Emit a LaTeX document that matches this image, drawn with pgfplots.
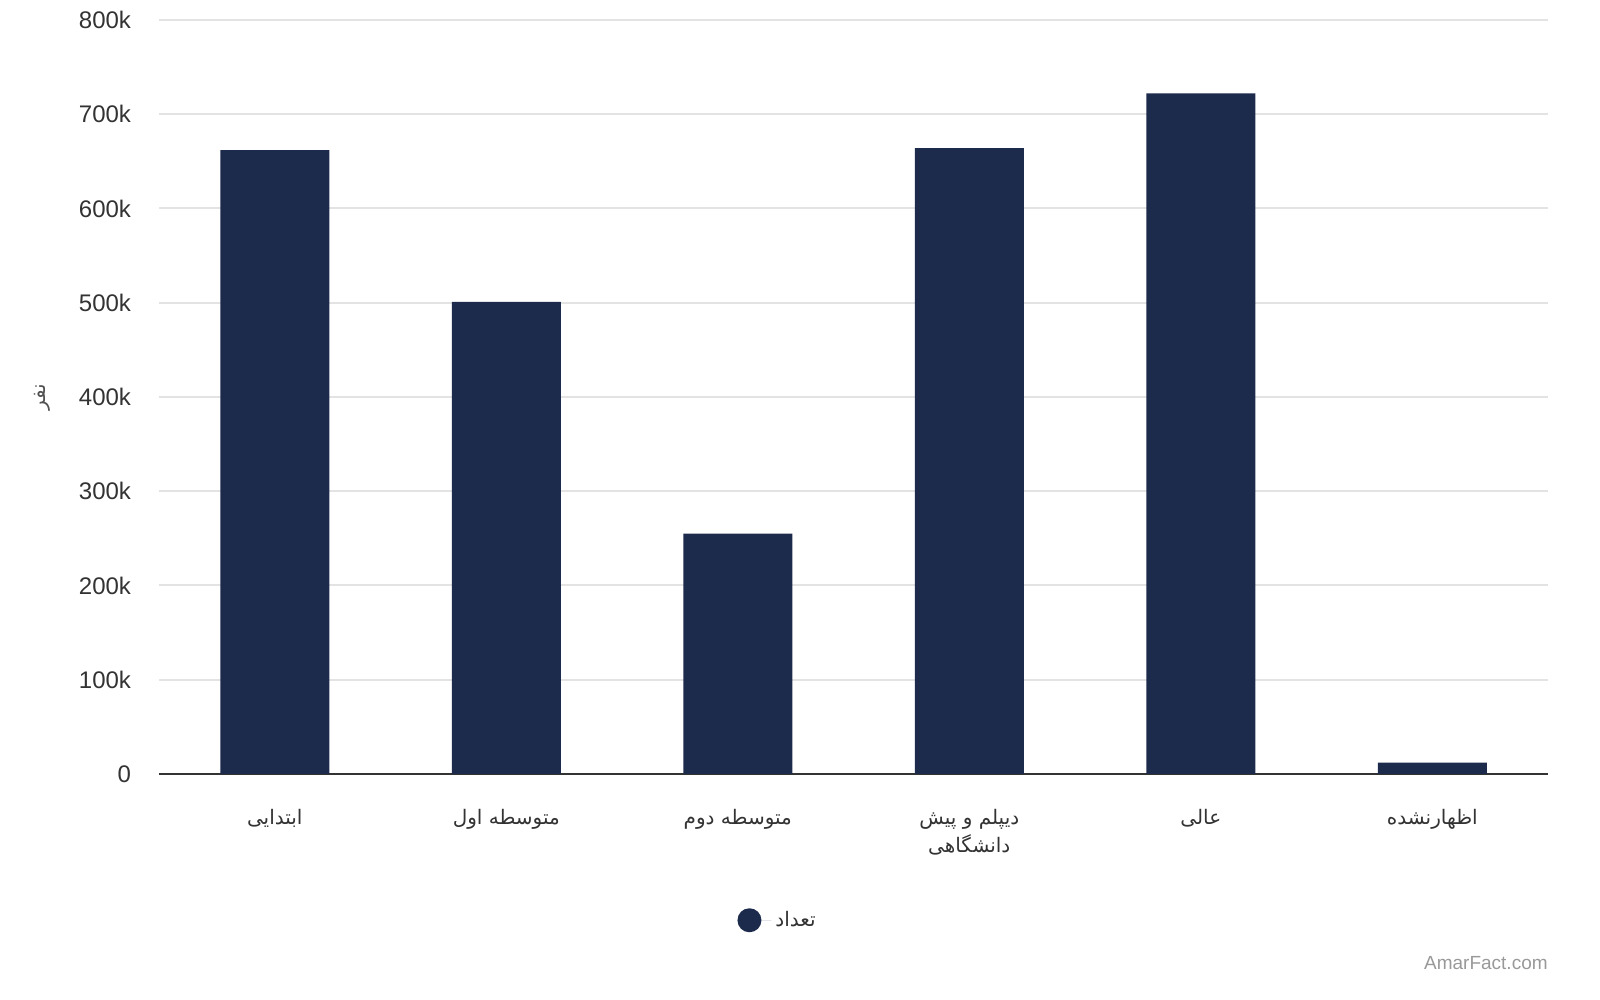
\documentclass[border=0pt]{standalone}
\usepackage{fontspec}
\setmainfont{Liberation Sans}
\newfontfamily\arabicfont[Script=Arabic]{DejaVu Sans}
\TeXXeTstate=1
\usepackage{pgfplots}
\pgfplotsset{compat=1.18}

\definecolor{navy}{HTML}{1C2A4C}
\definecolor{gridgrey}{HTML}{E3E3E3}
\definecolor{txt}{HTML}{333333}

\begin{document}
\begin{tikzpicture}
\begin{axis}[
    scale only axis, width=694.5pt, height=377pt,
    xmin=-0.5, xmax=5.5, ymin=0, ymax=800000,
    axis x line*=bottom, axis y line*=left,
    x axis line style={-, txt, line width=1pt},
    y axis line style={draw=none},
    major tick length=0pt, tick style={draw=none},
    ymajorgrids, major grid style={gridgrey, line width=1pt},
    xtick={0,1,2,3,4,5},
    xticklabels={{\arabicfont\beginR ابتدایی\endR},
                 {\arabicfont\beginR متوسطه اول\endR},
                 {\arabicfont\beginR متوسطه دوم\endR},
                 {{\arabicfont\beginR دیپلم و پیش\endR}\\{\arabicfont\beginR دانشگاهی\endR}},
                 {\arabicfont\beginR عالی\endR},
                 {\arabicfont\beginR اظهارنشده\endR}},
    xticklabel style={font=\fontsize{10}{14}\selectfont, text=txt, align=center,
                      anchor=north, yshift=-14pt},
    ytick={0,100000,200000,300000,400000,500000,600000,700000,800000},
    yticklabels={0,100k,200k,300k,400k,500k,600k,700k,800k},
    scaled y ticks=false,
    yticklabel style={font=\fontsize{12}{14}\selectfont, text=txt, xshift=-10.5pt},
    /pgf/number format/assume math mode=true,
    ylabel={\arabicfont\beginR نفر\endR},
    ylabel style={at={(axis description cs:-0.084,0.5)}, anchor=center,
                  font=\fontsize{10}{12}\selectfont, text=txt!85},
    legend style={at={(axis description cs:0.446,-0.194)}, anchor=center,
                  draw=none, fill=none, font=\fontsize{10}{12}\selectfont, text=txt},
    clip=false,
]
\addplot[ybar, bar width=54.5pt, fill=navy, draw=none,
         legend image code/.code={\fill[navy] (6pt,0pt) circle (6pt);
                                  \path (0pt,0pt) -- (17pt,0pt);}]
    coordinates {(0,662000) (1,501000) (2,255000) (3,664000) (4,722000) (5,12000)};
\addlegendentry{\arabicfont\beginR تعداد\endR}
\node[anchor=east, inner sep=0pt, font=\fontsize{9.5}{11}\selectfont, text=black!40]
    at (axis description cs:1,-0.251) {AmarFact.com};
% page frame: 1600 x 1000 reference pixels around the axis box
\path (axis description cs:-0.1145,-0.2997) rectangle (axis description cs:1.0374,1.0265);
\end{axis}
\end{tikzpicture}
\end{document}
